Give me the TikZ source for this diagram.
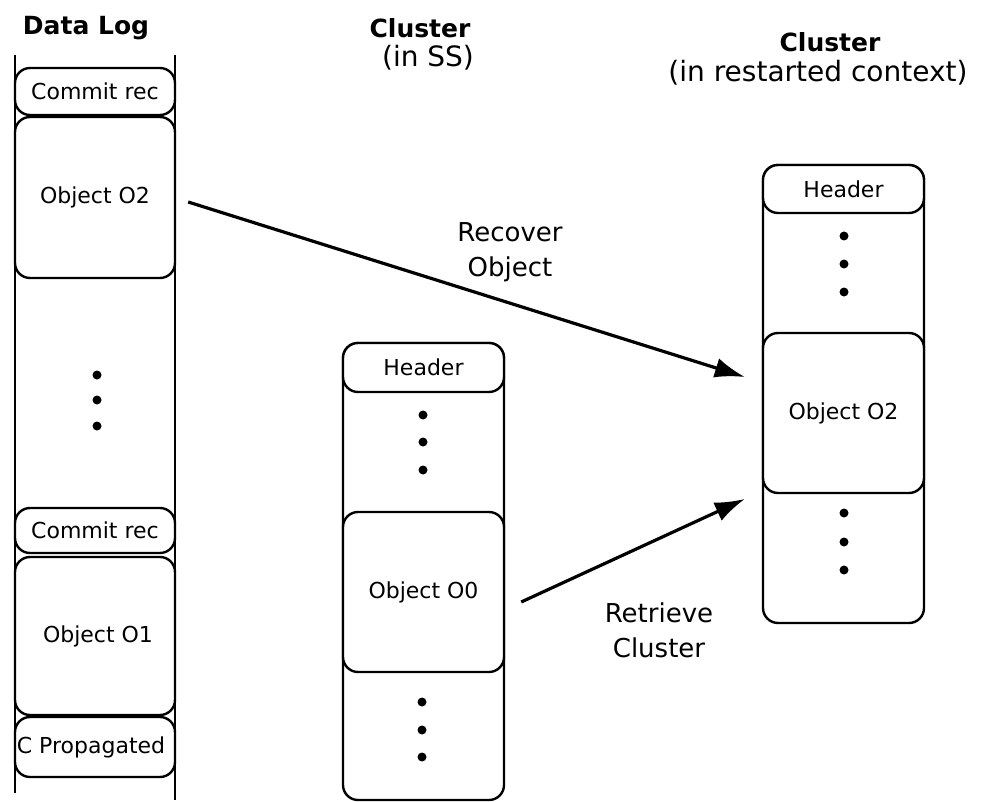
\documentclass[tikz,border=0pt]{standalone}
\usepackage{fontspec}
\setmainfont{DejaVu Sans}
\usetikzlibrary{arrows.meta,calc}

\tikzset{
  cell/.style={draw, line width=2.4pt, rounded corners=15pt, fill=white,
    minimum width=160pt, inner sep=0pt, align=center,
    font=\fontsize{22}{26}\selectfont},
  column/.style={draw, line width=2.4pt, rounded corners=15pt, fill=white},
  logline/.style={line width=2.4pt},
  dot/.style={circle, fill=black, inner sep=0pt, minimum size=9pt},
  title/.style={font=\bfseries\fontsize{25}{30}\selectfont, inner sep=0pt},
  subtitle/.style={font=\fontsize{28}{33}\selectfont, inner sep=0pt},
  label/.style={font=\fontsize{26}{35}\selectfont, inner sep=0pt, align=center},
  flow/.style={line width=3.2pt, -{Latex[length=30pt,width=20pt]}}
}

\begin{document}
\begin{tikzpicture}[x=1pt,y=-1pt]
\useasboundingbox (0,0) rectangle (987,802);

% ---------- Data log ----------
\node[title] (tlog) at (86,28) {Data Log};
\coordinate (logTL) at (15,55);
\coordinate (logBL) at (15,793);
\coordinate (logTR) at (175,55);
\coordinate (logBR) at (175,800);
\draw[logline] (logTL) -- (logBL);
\draw[logline] (logTR) -- (logBR);

\node[cell, minimum height=47pt] (cr1) at (95,91.5) {Commit rec};
\node[cell, minimum height=161pt] (lo2) at (95,197.5) {Object O2};
\node[dot] (ld1) at (97,375) {};
\node[dot] (ld2) at (97,400) {};
\node[dot] (ld3) at (97,426) {};
\node[cell, minimum height=45pt] (cr2) at (95,530.5) {Commit rec};
\node[cell, minimum height=158pt] (lo1) at (95,636) {\hspace{6pt}Object O1};
\node[cell, minimum height=60pt] (cp) at (95,747) {\hspace{-8pt}C Propagated};

% ---------- Cluster in SS ----------
\node[title] (tss) at (420,28) {Cluster};
\node[subtitle] (tss2) at (428,58) {(in SS)};
\draw[column] (343,343) rectangle (504,800);
\node[cell, minimum width=161pt, minimum height=49pt] (sh) at (423.5,367.5) {Header};
\node[dot] (sd1) at (423,415) {};
\node[dot] (sd2) at (423,442) {};
\node[dot] (sd3) at (423,470) {};
\node[cell, minimum width=161pt, minimum height=160pt] (so0) at (423.5,592) {Object O0};
\node[dot] (sd4) at (422,702) {};
\node[dot] (sd5) at (422,730) {};
\node[dot] (sd6) at (422,757) {};

% ---------- Cluster in restarted context ----------
\node[title] (trc) at (830,42) {Cluster};
\node[subtitle] (trc2) at (818,73) {(in restarted context)};
\draw[column] (763,165) rectangle (924,623);
\node[cell, minimum width=161pt, minimum height=48pt] (rh) at (843.5,189) {Header};
\node[dot] (rd1) at (844,236) {};
\node[dot] (rd2) at (844,264) {};
\node[dot] (rd3) at (844,292) {};
\node[cell, minimum width=161pt, minimum height=160pt] (ro2) at (843.5,413) {Object O2};
\node[dot] (rd4) at (844,513) {};
\node[dot] (rd5) at (844,542) {};
\node[dot] (rd6) at (844,570) {};

% ---------- Transfers ----------
\coordinate (recS) at ($(lo2.east)+(12,4.5)$);
\coordinate (recE) at ($(ro2.west)+(-17,-36)$);
\draw[flow] (recS) -- (recE);
\node[label] (lrec) at (510,252) {Recover\\Object};

\coordinate (retS) at ($(so0.east)+(16,10)$);
\coordinate (retE) at ($(ro2.west)+(-17,86)$);
\draw[flow] (retS) -- (retE);
\node[label] (lret) at (659,630) {Retrieve\\Cluster};
\end{tikzpicture}
\end{document}
